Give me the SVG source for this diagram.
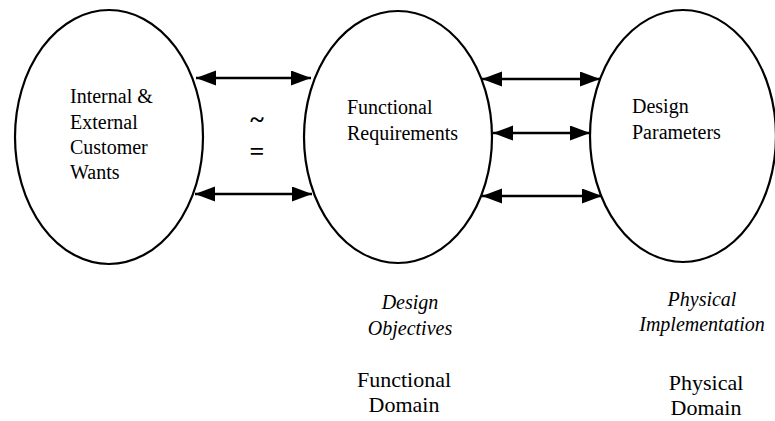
<svg xmlns="http://www.w3.org/2000/svg" width="775" height="421" viewBox="0 0 775 421" font-family="'Liberation Serif', 'Times New Roman', 'DejaVu Serif', serif">
<style>
.node ellipse{fill:#fff;stroke:#000;stroke-width:2.2}
text{font-family:'Liberation Serif','Times New Roman','DejaVu Serif',serif;fill:#000}
.t{font-size:20px}
.i{font-size:20px;font-style:italic}
.d{font-size:22px}
.c line{stroke:#000;stroke-width:2.6}
</style>
<defs>
<marker id="ah" markerUnits="userSpaceOnUse" markerWidth="22" markerHeight="16" refX="20" refY="7.5" orient="auto-start-reverse">
<path d="M0,0 L20,7.5 L0,15 Z" fill="#000"/>
</marker>
</defs>
<rect width="775" height="421" fill="#fff"/>
<g id="cw" class="node">
<ellipse cx="109" cy="137" rx="94" ry="127"/>
<text class="t" x="70" y="103">Internal &amp;</text>
<text class="t" x="70" y="129">External</text>
<text class="t" x="70" y="154">Customer</text>
<text class="t" x="70" y="179">Wants</text>
</g>
<g id="fr" class="node">
<ellipse cx="398" cy="137" rx="94" ry="126"/>
<text class="t" x="347" y="114">Functional</text>
<text class="t" x="347" y="140">Requirements</text>
</g>
<g id="dp" class="node">
<ellipse cx="683" cy="136" rx="93" ry="126"/>
<text class="t" x="632" y="113">Design</text>
<text class="t" x="632" y="139">Parameters</text>
</g>
<g id="approx">
<text x="257" y="128" font-size="26" font-weight="bold" text-anchor="middle">~</text>
<text x="257" y="160" font-size="26" font-weight="bold" text-anchor="middle">=</text>
</g>
<g id="connectors" class="c">
<line x1="196" y1="78" x2="311" y2="78" marker-start="url(#ah)" marker-end="url(#ah)"/>
<line x1="195" y1="194" x2="312" y2="194" marker-start="url(#ah)" marker-end="url(#ah)"/>
<line x1="482" y1="79" x2="600" y2="79" marker-start="url(#ah)" marker-end="url(#ah)"/>
<line x1="493" y1="133" x2="590" y2="133" marker-start="url(#ah)" marker-end="url(#ah)"/>
<line x1="482" y1="196" x2="602" y2="196" marker-start="url(#ah)" marker-end="url(#ah)"/>
</g>
<g id="labels" text-anchor="middle">
<text class="i" x="410" y="309">Design</text>
<text class="i" x="410" y="335">Objectives</text>
<text class="d" x="404" y="387">Functional</text>
<text class="d" x="404" y="412">Domain</text>
<text class="i" x="702" y="306">Physical</text>
<text class="i" x="702" y="331">Implementation</text>
<text class="d" x="706" y="390">Physical</text>
<text class="d" x="706" y="415">Domain</text>
</g>
</svg>
